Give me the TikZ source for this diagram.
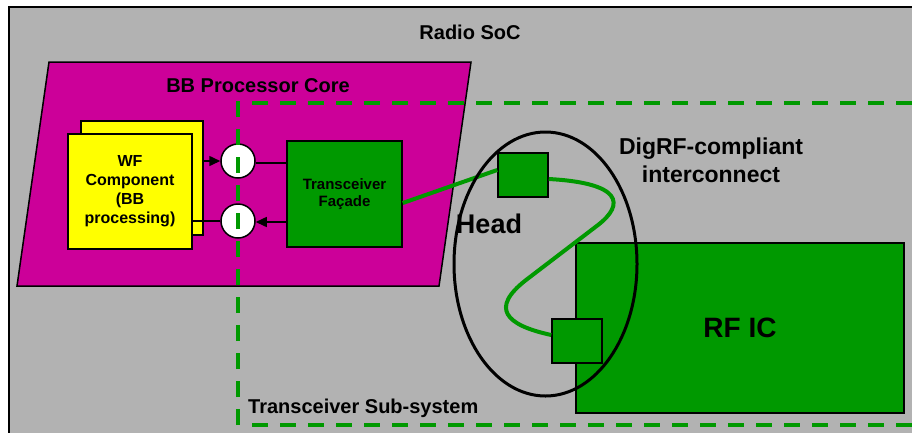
\documentclass[tikz,border=0pt]{standalone}
\usepackage{fontspec}
\setmainfont{Liberation Sans}
\usetikzlibrary{arrows.meta,shapes.geometric,calc}
\definecolor{socgray}{HTML}{B2B2B2}
\definecolor{bbmag}{HTML}{CC0099}
\definecolor{dgreen}{HTML}{009900}
\definecolor{wfyellow}{HTML}{FFFF00}
\tikzset{
  boxline/.style={draw=black, line width=1.5pt},
  wfbox/.style={boxline, fill=wfyellow, inner sep=0pt},
  grbox/.style={boxline, fill=dgreen, inner sep=0pt},
  port/.style={circle, draw=black, line width=1.5pt, fill=white, minimum size=34pt, inner sep=0pt},
  arr/.style={line width=1.5pt, -{Triangle[length=11pt,width=10pt]}},
  plainline/.style={line width=1.5pt},
  link/.style={draw=dgreen, line width=4pt},
  subsys/.style={draw=dgreen, line width=4pt, dash pattern=on 16pt off 12pt},
  lbl/.style={font=\bfseries, inner sep=0pt, align=center},
}
\begin{document}
\begin{tikzpicture}[x=1pt, y=-1pt]
\useasboundingbox (0,0) rectangle (912,432);
% Radio SoC background
\fill[white] (0,0) rectangle (912,432);
\draw[fill=socgray, draw=black, line width=2pt] (9,7) rectangle (930,450);
\node[lbl, font=\bfseries\fontsize{20}{24}\selectfont] (soc) at (470,32) {Radio SoC};
% BB Processor Core parallelogram
\draw[fill=bbmag, draw=black, line width=1.5pt] (49,62) -- (471,62) -- (439,286) -- (17,286) -- cycle;
\node[lbl, font=\bfseries\fontsize{20}{24}\selectfont] (bbl) at (258,86) {BB Processor Core};
% WF component stacked boxes
\node[wfbox, minimum width=122pt, minimum height=114pt] (wfback) at (142,178) {};
\node[wfbox, minimum width=124pt, minimum height=115pt, font=\bfseries\fontsize{16}{19}\selectfont, align=center] (wffront) at (130,191.5) {WF\\Component\\(BB\\processing)};
% ports
\node[port] (c1) at (238,161) {};
\node[port] (c2) at (238,221) {};
% Transceiver facade
\node[grbox, minimum width=115pt, minimum height=106pt, font=\bfseries\fontsize{15}{17}\selectfont, align=center] (txf) at (344.5,194) {Transceiver\\Façade};
% connectors
\draw[arr] (wfback.east |- c1) -- (c1.west);
\draw[plainline] ($(c1.east)+(0,2)$) -- ($(txf.west |- c1)+(0,2)$);
\draw[plainline] (wffront.east |- c2) -- (c2.west);
\draw[arr] ($(txf.west |- c2)+(0,1)$) -- ($(c2.east)+(0,1)$);
% head boxes
\node[grbox, minimum width=50pt, minimum height=44pt] (hb1) at (523,175) {};
% RF IC
\node[grbox, minimum width=328pt, minimum height=170pt, font=\bfseries\fontsize{28}{32}\selectfont] (rfic) at (740,328) {RF IC};
\node[grbox, minimum width=50pt, minimum height=44pt] (hb2) at (577,341) {};
% DigRF links
\draw[link] ($(txf.east)+(0,9)$) -- ($(hb1.west)+(0,-5)$);
\draw[link] ($(hb1.east)+(0,4)$) .. controls (622,183) and (625,204) .. (598,225)
  -- (526,280) .. controls (490,308) and (505,325) .. ($(hb2.west)+(0,-6)$);
% Head ellipse
\node[ellipse, draw=black, line width=3pt, minimum width=183pt, minimum height=264pt, inner sep=0pt] (head) at (545.5,264) {};
\node[lbl, font=\bfseries\fontsize{27}{30}\selectfont] (headl) at (489,224) {Head};
% Transceiver sub-system dashed boundary
\draw[subsys] (238,425) -- (238,103) -- (930,103);
\draw[subsys] (252,425) -- (930,425);
\node[lbl, anchor=west, font=\bfseries\fontsize{20}{24}\selectfont] (tss) at (248,408) {Transceiver Sub-system};
% DigRF label
\node[lbl, font=\bfseries\fontsize{23}{28}\selectfont] (digrf) at (711,160) {DigRF-compliant\\interconnect};
\end{tikzpicture}
\end{document}
